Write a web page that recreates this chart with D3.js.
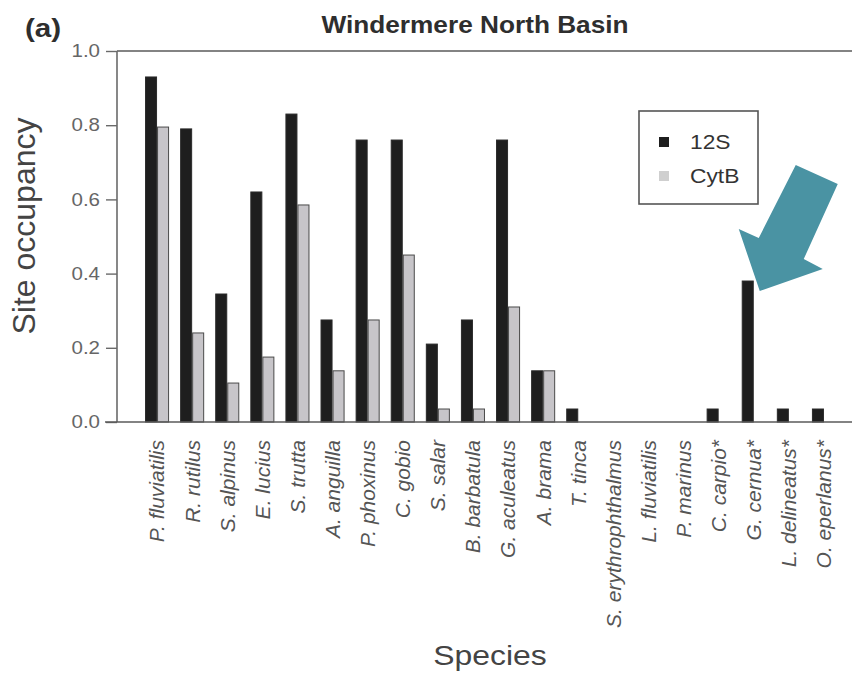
<!DOCTYPE html>
<html>
<head>
<meta charset="utf-8">
<script src="https://cdn.jsdelivr.net/npm/d3@7"></script>
<style>
  body { margin: 0; background: #fff; }
  svg { display: block; font-family: "Liberation Sans", Arial, sans-serif; }
</style>
</head>
<body>
<div id="chart"></div>
<script>
    "use strict";

    //Species and site occupancy for the two markers
    var species = ["P. fluviatilis", "R. rutilus", "S. alpinus", "E. lucius", "S. trutta",
        "A. anguilla", "P. phoxinus", "C. gobio", "S. salar", "B. barbatula",
        "G. aculeatus", "A. brama", "T. tinca", "S. erythrophthalmus", "L. fluviatilis",
        "P. marinus", "C. carpio*", "G. cernua*", "L. delineatus*", "O. eperlanus*"];
    var occ12S = [0.93, 0.79, 0.345, 0.62, 0.83, 0.275, 0.76, 0.76, 0.21, 0.275,
        0.76, 0.138, 0.035, 0, 0, 0, 0.035, 0.38, 0.035, 0.035];
    var occCytB = [0.795, 0.24, 0.105, 0.175, 0.585, 0.138, 0.275, 0.45, 0.035, 0.035,
        0.31, 0.138, 0, 0, 0, 0, 0, 0, 0, 0];
    var markers = ["12S", "CytB"];
    var yTicks = [0, 0.2, 0.4, 0.6, 0.8, 1.0];
    var highlighted = "G. cernua*";

    var width = 852, height = 675;
    var stretch = 1.14; //horizontal text in the figure is a little wide

    var svg = d3.select("#chart").append("svg")
        .attr("width", width)
        .attr("height", height);

    var x = d3.scaleBand()
        .domain(species)
        .range([139.5, 841.5])
        .padding(0);

    var xSub = d3.scaleBand()
        .domain(markers)
        .range([0, x.bandwidth()])
        .paddingInner(0)
        .paddingOuter(0.46);

    var y = d3.scaleLinear()
        .domain([0, 1])
        .range([422, 51]);

    var fill = { "12S": "#1e1e1e", "CytB": "#c7c5c9" };
    var stroke = { "12S": "#2a2a2a", "CytB": "#4a4a4a" };

    //One entry per non-empty bar
    var bars = [];
    species.forEach(function (s, i) {
        if (occ12S[i] > 0) bars.push({ name: s, key: "12S", v: occ12S[i] });
        if (occCytB[i] > 0) bars.push({ name: s, key: "CytB", v: occCytB[i] });
    });

    //Frame lines: top and left axis
    svg.append("line")
        .attr("x1", 117).attr("x2", width)
        .attr("y1", y(1)).attr("y2", y(1))
        .attr("stroke", "#5a5a5a").attr("stroke-width", 1.6);
    svg.append("line")
        .attr("x1", 117).attr("x2", 117)
        .attr("y1", y(1)).attr("y2", y(0))
        .attr("stroke", "#6a6a6a").attr("stroke-width", 1.6);

    //Y axis ticks and labels
    var yAxis = svg.append("g")
        .attr("transform", "translate(117,0)")
        .call(d3.axisLeft(y).tickValues(yTicks).tickFormat(d3.format(".1f")).tickSize(11).tickPadding(6));
    yAxis.select(".domain").remove();
    yAxis.selectAll(".tick line").attr("stroke", "#6a6a6a").attr("stroke-width", 1.4);
    yAxis.selectAll(".tick text")
        .attr("fill", "#666")
        .style("font-size", "18px")
        .attr("x", -17 / stretch)
        .attr("transform", "scale(" + stretch + ",1)");

    //Bars
    svg.append("g").selectAll("rect")
        .data(bars)
        .enter().append("rect")
        .attr("x", function (d) { return x(d.name) + xSub(d.key) + 0.5; })
        .attr("width", xSub.bandwidth() - 1)
        .attr("y", function (d) { return y(d.v); })
        .attr("height", function (d) { return y(0) - y(d.v); })
        .attr("fill", function (d) { return fill[d.key]; })
        .attr("stroke", function (d) { return stroke[d.key]; })
        .attr("stroke-width", 1);

    //Bottom axis over the bar bases
    svg.append("line")
        .attr("x1", 105).attr("x2", width)
        .attr("y1", y(0)).attr("y2", y(0))
        .attr("stroke", "#5a5a5a").attr("stroke-width", 1.6);

    //Species labels
    svg.append("g").selectAll("text")
        .data(species)
        .enter().append("text")
        .attr("transform", function (d) {
            return "translate(" + (x(d) + x.bandwidth() / 2) + ",440) rotate(-90)";
        })
        .attr("text-anchor", "end")
        .attr("dy", "0.35em")
        .attr("fill", "#555")
        .style("font-size", "21px")
        .style("font-style", "italic")
        .text(function (d) { return d; });

    //Titles
    svg.append("text")
        .attr("transform", "translate(475,33) scale(" + stretch + ",1)")
        .attr("text-anchor", "middle")
        .attr("fill", "#2e2e2e")
        .style("font-size", "23px")
        .style("font-weight", "bold")
        .text("Windermere North Basin");

    svg.append("text")
        .attr("transform", "translate(25,37) scale(" + stretch + ",1)")
        .attr("fill", "#2e2e2e")
        .style("font-size", "26px")
        .style("font-weight", "bold")
        .text("(a)");

    svg.append("text")
        .attr("transform", "translate(490,665) scale(" + stretch + ",1)")
        .attr("text-anchor", "middle")
        .attr("fill", "#444")
        .style("font-size", "28px")
        .text("Species");

    svg.append("text")
        .attr("transform", "translate(35,226) rotate(-90)")
        .attr("text-anchor", "middle")
        .attr("fill", "#444")
        .style("font-size", "32px")
        .text("Site occupancy");

    //Legend
    var legend = svg.append("g").attr("transform", "translate(639,111)");
    legend.append("rect")
        .attr("width", 119).attr("height", 93)
        .attr("fill", "#fff")
        .attr("stroke", "#555").attr("stroke-width", 1.6);
    var legendFill = { "12S": "#1e1e1e", "CytB": "#cfcfcf" };
    markers.forEach(function (m, i) {
        var row = legend.append("g").attr("transform", "translate(0," + (31 + i * 34) + ")");
        row.append("rect")
            .attr("x", 20).attr("y", -5)
            .attr("width", 10).attr("height", 10)
            .attr("fill", legendFill[m]);
        row.append("text")
            .attr("transform", "translate(51,0) scale(" + stretch + ",1)")
            .attr("dy", "0.36em")
            .attr("fill", "#333")
            .style("font-size", "20px")
            .text(m);
    });

    //Arrow pointing at the highlighted species bar
    var hi = species.indexOf(highlighted);
    var tipX = x(highlighted) + xSub("12S") + xSub.bandwidth() + 6;
    var tipY = y(occ12S[hi]) + 10;
    var arrowShape = [[36, -126], [78, -107], [44, -32], [63, -22], [0, 0], [-21, -62], [-1, -53]];
    svg.append("polygon")
        .attr("points", arrowShape.map(function (p) { return (tipX + p[0]) + "," + (tipY + p[1]); }).join(" "))
        .attr("fill", "#4a93a3");
</script>
</body>
</html>
